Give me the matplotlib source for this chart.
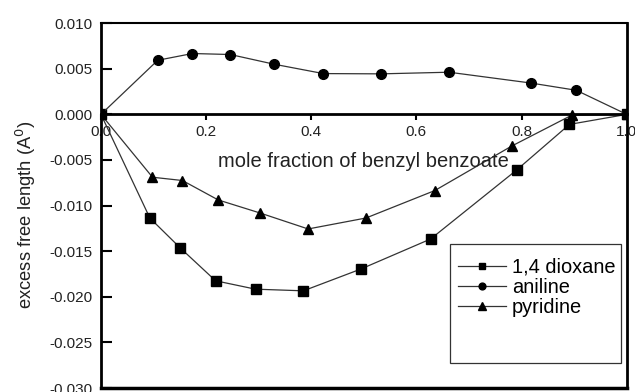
import numpy as np
import matplotlib.pyplot as plt
from matplotlib.patches import Rectangle

plt.rcParams['font.family'] = ['Liberation Sans', 'DejaVu Sans']

# mole fraction of benzyl benzoate and excess free length for each solvent
x_dioxane = [0.0, 0.093, 0.151, 0.218, 0.294, 0.385, 0.494, 0.627, 0.791, 0.891, 1.0]
y_dioxane = [0.0, -0.01136, -0.01465, -0.01824, -0.01916, -0.01934, -0.01696, -0.01366, -0.00608, -0.0011, 0.0]

x_aniline = [0.0, 0.108, 0.174, 0.246, 0.329, 0.423, 0.533, 0.662, 0.817, 0.904, 1.0]
y_aniline = [0.0, 0.00593, 0.00667, 0.00656, 0.0055, 0.00447, 0.00444, 0.00462, 0.00344, 0.00264, 0.0]

x_pyridine = [0.0, 0.098, 0.155, 0.223, 0.302, 0.394, 0.504, 0.635, 0.781, 0.895, 1.0]
y_pyridine = [0.0, -0.00689, -0.00725, -0.00938, -0.0108, -0.01256, -0.01136, -0.00835, -0.00348, -0.0001, 0.0]

xticks = [0.0, 0.2, 0.4, 0.6, 0.8, 1.0]
xticklabels = ['0.0', '0.2', '0.4', '0.6', '0.8', '1.0']
yticks = [-0.030, -0.025, -0.020, -0.015, -0.010, -0.005, 0.000, 0.005, 0.010]

fig = plt.figure(figsize=(6.35, 3.92), dpi=100)
ax = fig.add_axes([0.159, 0.010, 0.828, 0.931])

line_col = '#333333'
ax.plot(x_dioxane, y_dioxane, '-s', color=line_col, lw=0.9, ms=6.5, mfc='k', mec='k', label='1,4 dioxane')
ax.plot(x_aniline, y_aniline, '-o', color=line_col, lw=0.9, ms=7, mfc='k', mec='k', label='aniline')
ax.plot(x_pyridine, y_pyridine, '-^', color=line_col, lw=0.9, ms=7.5, mfc='k', mec='k', label='pyridine')

ax.set_xlim(0, 1)
ax.set_ylim(-0.030, 0.010)

# x axis runs through zero, frame closed at the bottom by a separate line
ax.spines['bottom'].set_position(('data', 0))
ax.spines['bottom'].set_linewidth(2)
ax.spines['left'].set_linewidth(2)
ax.spines['right'].set_linewidth(2)
ax.spines['top'].set_linewidth(1.5)
ax.axhline(-0.030, color='k', lw=2.5, clip_on=False)

ax.set_xticks(xticks)
ax.set_xticklabels(xticklabels)
ax.set_yticks(yticks)
ax.set_yticklabels(['%.3f' % v for v in yticks])
ax.tick_params(axis='x', direction='out', length=4, width=1.5, pad=4, labelsize=11, labelcolor='#222222')
ax.tick_params(axis='y', direction='in', length=8, width=1.5, pad=6, labelsize=11, labelcolor='#222222')

ax.text(0.5, 0.62, 'mole fraction of benzyl benzoate', fontsize=14.5, color='#222222',
        ha='center', va='center', transform=ax.transAxes)
ax.set_ylabel('excess free length (A$^0$)', fontsize=13.2, color='#222222', labelpad=8)
ax.yaxis.label.set_y(0.475)

leg = ax.legend(loc='upper left', bbox_to_anchor=(0.652, 0.395), frameon=False, fontsize=14.4,
                handlelength=2.4, handletextpad=0.3, labelspacing=0.05, markerscale=0.7,
                borderpad=0.2)
ax.add_patch(Rectangle((0.664, 0.07), 0.326, 0.325, transform=ax.transAxes, fill=False,
                       ec='#333333', lw=0.9, zorder=5))

fig.savefig('out.png', dpi=100)
